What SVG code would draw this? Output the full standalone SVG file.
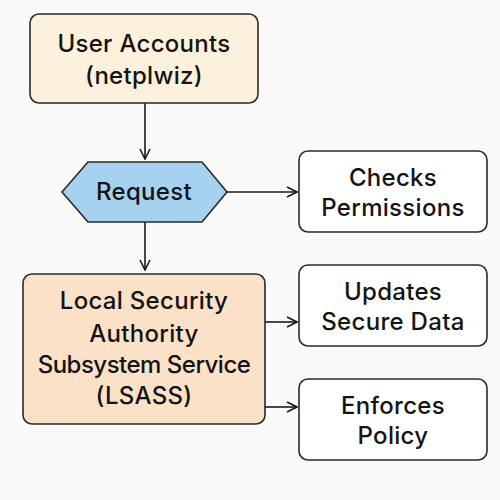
<svg xmlns="http://www.w3.org/2000/svg" width="500" height="500" viewBox="0 0 500 500">
<defs>
<marker id="arr" viewBox="0 0 12 12" refX="11" refY="6" markerWidth="12" markerHeight="12" markerUnits="userSpaceOnUse" orient="auto">
<path d="M1,1 L11,6 L1,11" fill="none" stroke="#1a1a1a" stroke-width="1.6"/>
</marker>
<style>
.box{stroke:#2a2a2a;stroke-width:1.6}
.t{font-family:Inter,"Open Sans",sans-serif;font-size:24px;font-weight:500;fill:#141414;text-anchor:middle;letter-spacing:0.3px}
.tight{letter-spacing:-0.5px}
.c{stroke:#1a1a1a;stroke-width:1.6;fill:none}
</style>
</defs>
<rect width="500" height="500" fill="#fafaf8"/>
<g id="connectors">
<line class="c" x1="145" y1="103" x2="145" y2="159" marker-end="url(#arr)"/>
<line class="c" x1="227" y1="192" x2="297" y2="192" marker-end="url(#arr)"/>
<line class="c" x1="145" y1="222" x2="145" y2="270" marker-end="url(#arr)"/>
<line class="c" x1="265" y1="322" x2="297" y2="322" marker-end="url(#arr)"/>
<line class="c" x1="265" y1="407" x2="297" y2="407" marker-end="url(#arr)"/>
</g>
<g id="user-accounts">
<rect class="box" x="30" y="14" width="228" height="89" rx="9" fill="#fcf1dc"/>
<text class="t" x="144" y="52">User Accounts</text>
<text class="t" x="144" y="84">(netplwiz)</text>
</g>
<g id="request">
<polygon class="box" points="62,192 88,162 202,162 227,192 202,222 88,222" fill="#a6d2f0"/>
<text class="t" x="144" y="200">Request</text>
</g>
<g id="checks">
<rect class="box" x="299" y="151" width="188" height="81" rx="9" fill="#ffffff"/>
<text class="t" x="393" y="186">Checks</text>
<text class="t" x="393" y="216">Permissions</text>
</g>
<g id="lsass">
<rect class="box" x="23" y="274" width="242" height="150" rx="9" fill="#fae1c8"/>
<text class="t" x="144" y="309">Local Security</text>
<text class="t" x="144" y="342">Authority</text>
<text class="t tight" x="144" y="373">Subsystem Service</text>
<text class="t" x="144" y="404">(LSASS)</text>
</g>
<g id="updates">
<rect class="box" x="299" y="265" width="188" height="81" rx="9" fill="#ffffff"/>
<text class="t" x="393" y="300">Updates</text>
<text class="t" x="393" y="330">Secure Data</text>
</g>
<g id="enforces">
<rect class="box" x="299" y="379" width="188" height="81" rx="9" fill="#ffffff"/>
<text class="t" x="393" y="414">Enforces</text>
<text class="t" x="393" y="444">Policy</text>
</g>
</svg>
